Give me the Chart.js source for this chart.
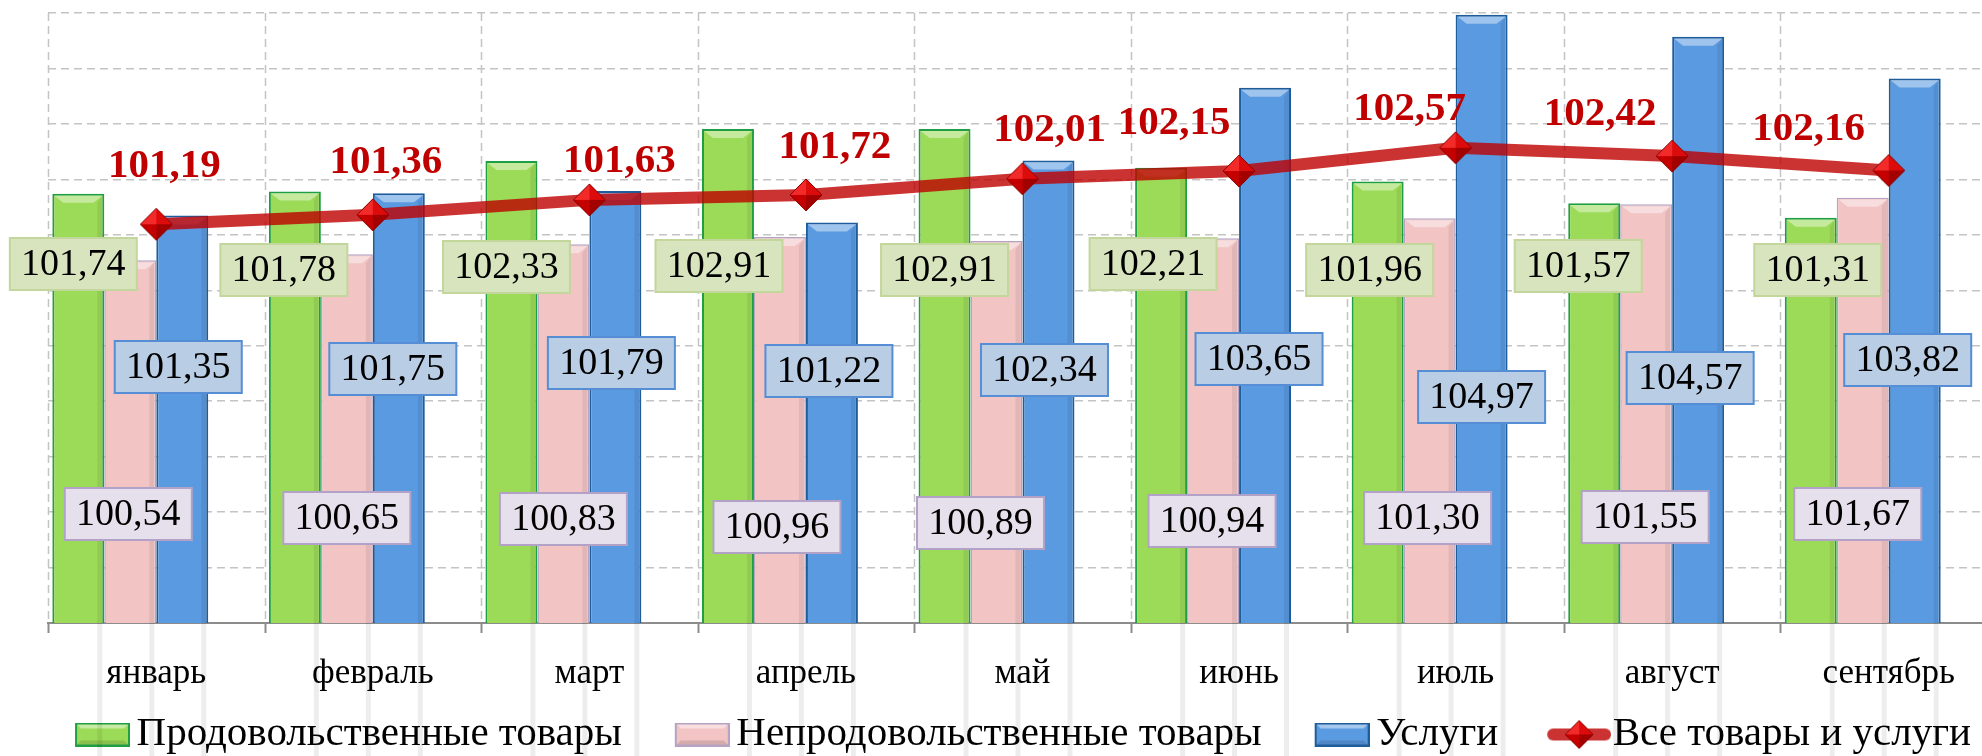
<!DOCTYPE html>
<html>
<head>
<meta charset="utf-8">
<script src="https://cdn.jsdelivr.net/npm/chart.js@4.4.1/dist/chart.umd.min.js"></script>
<style>
  html, body { margin: 0; padding: 0; background: #fff; overflow: hidden; }
  #wrap { width: 2003px; height: 756px; }
</style>
</head>
<body>
<div id="wrap"><canvas id="cpiChart" width="2003" height="756"></canvas></div>
<script>
const months = ["январь", "февраль", "март", "апрель", "май", "июнь", "июль", "август", "сентябрь"];
const seriesNames = ["Продовольственные товары", "Непродовольственные товары", "Услуги", "Все товары и услуги"];

const foodIdx = [101.74, 101.78, 102.33, 102.91, 102.91, 102.21, 101.96, 101.57, 101.31];
const nonFoodIdx = [100.54, 100.65, 100.83, 100.96, 100.89, 100.94, 101.30, 101.55, 101.67];
const servicesIdx = [101.35, 101.75, 101.79, 101.22, 102.34, 103.65, 104.97, 104.57, 103.82];
const allIdx = [101.19, 101.36, 101.63, 101.72, 102.01, 102.15, 102.57, 102.42, 102.16];

const yMin = 94, yMax = 105, yStep = 1;

const serif = "'Liberation Serif', 'DejaVu Serif', serif";
const gridColor = "#c4c4c4";
const gridDash = [8, 5];
const axisColor = "#8c8c8c";
const fmt = v => v.toFixed(2).replace(".", ",");

function poly(ctx, pts) {
  ctx.beginPath();
  ctx.moveTo(pts[0][0], pts[0][1]);
  for (let i = 1; i < pts.length; i++) ctx.lineTo(pts[i][0], pts[i][1]);
  ctx.closePath();
  ctx.fill();
}

// red diamond marker with facets
function makeDiamond(r) {
  const c = document.createElement("canvas");
  c.width = c.height = 2 * r + 2;
  const g = c.getContext("2d");
  const m = r + 1;
  g.fillStyle = "#f22a2a"; poly(g, [[m, m], [m, 1], [1, m]]);
  g.fillStyle = "#dc0c0c"; poly(g, [[m, m], [m, 1], [2 * r + 1, m]]);
  g.fillStyle = "#c40000"; poly(g, [[m, m], [1, m], [m, 2 * r + 1]]);
  g.fillStyle = "#a30000"; poly(g, [[m, m], [2 * r + 1, m], [m, 2 * r + 1]]);
  g.strokeStyle = "#8a0000";
  g.lineWidth = 1;
  g.beginPath();
  g.moveTo(m, 1); g.lineTo(2 * r + 1, m); g.lineTo(m, 2 * r + 1); g.lineTo(1, m); g.closePath();
  g.stroke();
  return c;
}

// legend icons are right-aligned inside a wider transparent canvas
const iconSlot = 84;
function makeBarIcon(fill, edge) {
  const w = 55, h = 24, W = iconSlot + 28;
  const c = document.createElement("canvas");
  c.width = W; c.height = h;
  const g = c.getContext("2d");
  const l = W - w;
  g.fillStyle = fill; g.fillRect(l, 0, w, h);
  g.fillStyle = "rgba(255,255,255,0.45)"; poly(g, [[l, 0], [W, 0], [W - 6, 6], [l + 6, 6]]);
  g.fillStyle = "rgba(0,0,0,0.12)"; poly(g, [[l + 6, h - 6], [W - 6, h - 6], [W, h], [l, h]]);
  g.strokeStyle = edge; g.lineWidth = 2; g.strokeRect(l + 1, 1, w - 2, h - 2);
  return c;
}
function makeLineIcon(marker) {
  const w = 64, h = 36, W = iconSlot + 38;
  const c = document.createElement("canvas");
  c.width = W; c.height = h;
  const g = c.getContext("2d");
  const l = W - w;
  g.strokeStyle = "rgba(190,0,0,0.8)";
  g.lineWidth = 12; g.lineCap = "round";
  g.beginPath(); g.moveTo(l + 6, h / 2); g.lineTo(W - 6, h / 2); g.stroke();
  g.drawImage(marker, l + w / 2 - marker.width / 2, h / 2 - marker.height / 2);
  return c;
}

const diamond = makeDiamond(16);
const legendIcons = [
  makeBarIcon("#9cdb58", "#1f9e43"),
  makeBarIcon("#f2c4c4", "#b4a3c3"),
  makeBarIcon("#5a9ae0", "#1f5c9a"),
  makeLineIcon(makeDiamond(14))
];

// x positions of the month boundaries
function monthEdges(chart) {
  const xs = chart.scales.x;
  const n = xs.ticks.length;
  const step = xs.getPixelForTick(1) - xs.getPixelForTick(0);
  const edges = [];
  for (let i = 0; i <= n; i++) edges.push(Math.round(xs.getPixelForTick(0) + (i - 0.5) * step) + 0.5);
  return edges;
}

// dashed lines between months over the plot, short solid ticks under the axis
const monthGrid = {
  id: "monthGrid",
  beforeDatasetsDraw(chart) {
    const ys = chart.scales.y;
    const ctx = chart.ctx;
    const yTop = ys.getPixelForValue(ys.max);
    const yBottom = ys.getPixelForValue(ys.min);
    ctx.save();
    monthEdges(chart).forEach(x => {
      ctx.strokeStyle = gridColor;
      ctx.lineWidth = 1.5;
      ctx.setLineDash(gridDash);
      ctx.beginPath();
      ctx.moveTo(x, yTop);
      ctx.lineTo(x, yBottom);
      ctx.stroke();
      ctx.strokeStyle = axisColor;
      ctx.lineWidth = 2;
      ctx.setLineDash([]);
      ctx.beginPath();
      ctx.moveTo(x, yBottom);
      ctx.lineTo(x, yBottom + 10);
      ctx.stroke();
    });
    ctx.restore();
  }
};

// 3D-ish bevel on every bar
const bevel = {
  id: "bevel",
  afterDatasetDraw(chart, args) {
    const meta = args.meta;
    if (meta.type !== "bar" || !chart.data.datasets[args.index].label) return;
    const ctx = chart.ctx;
    const b = 9;
    ctx.save();
    meta.data.forEach(bar => {
      const { x, y, base, width } = bar.getProps(["x", "y", "base", "width"], true);
      if (!isFinite(y)) return;
      const l = x - width / 2 + 2, r = x + width / 2 - 2;
      ctx.fillStyle = "rgba(255,255,255,0.42)";
      poly(ctx, [[l, y + 2], [r, y + 2], [r - b, y + b], [l + b, y + b]]);
      ctx.fillStyle = "rgba(0,0,0,0.07)";
      poly(ctx, [[r - 5, y + b], [r, y + 2], [r, base], [r - 5, base - b]]);
      ctx.fillStyle = "rgba(0,0,0,0.08)";
      poly(ctx, [[l + b, base - b], [r - b, base - b], [r, base], [l, base]]);
    });
    ctx.restore();
  }
};

// pull the legend a little lower than Chart.js would put it
const legendDrop = {
  id: "legendDrop",
  afterInit(chart) {
    const lg = chart.legend;
    if (!lg) return;
    const fit = lg.fit;
    lg.fit = function () { fit.call(this); this.height -= 9; };
  }
};

// boxed labels for bars and bold red labels for the line
const valueLabels = {
  id: "valueLabels",
  afterDatasetsDraw(chart, args, opts) {
    const ctx = chart.ctx;
    const ys = chart.scales.y;
    const top = ys.getPixelForValue(ys.max);
    const axisY = ys.getPixelForValue(ys.min);
    ctx.save();
    // keep the space between the axis and the legend clear at the month edges
    ctx.fillStyle = "#fff";
    monthEdges(chart).forEach(x => ctx.fillRect(x - 3, axisY + 11, 6, 712 - axisY - 11));
    ctx.textAlign = "center";
    ctx.textBaseline = "middle";
    ctx.font = "38px " + serif;
    opts.boxes.forEach(bx => {
      const meta = chart.getDatasetMeta(bx.dataset);
      const values = chart.data.datasets[bx.dataset].data;
      meta.data.forEach((bar, j) => {
        const cx = bar.x + bx.dx[j];
        const cy = top + bx.dy[j];
        const w = 127, h = 52;
        ctx.fillStyle = bx.fill;
        ctx.fillRect(cx - w / 2, cy - h / 2, w, h);
        ctx.strokeStyle = bx.edge;
        ctx.lineWidth = 2;
        ctx.strokeRect(cx - w / 2, cy - h / 2, w, h);
        ctx.fillStyle = "#000";
        ctx.fillText(fmt(values[j]), cx, cy + 1);
      });
    });
    const lm = chart.getDatasetMeta(opts.line.dataset);
    const lv = chart.data.datasets[opts.line.dataset].data;
    ctx.font = "bold 41px " + serif;
    ctx.fillStyle = "#c00000";
    lm.data.forEach((pt, j) => {
      ctx.fillText(fmt(lv[j]), pt.x + opts.line.dx[j], pt.y + opts.line.dy[j]);
    });
    ctx.restore();
  }
};

const ctx = document.getElementById("cpiChart").getContext("2d");
const chart = new Chart(ctx, {
  type: "bar",
  data: {
    labels: months,
    datasets: [
      {
        label: seriesNames[0], data: foodIdx, order: 2,
        backgroundColor: "#9cdb58", borderColor: "#1f9e43", borderWidth: 2,
        categoryPercentage: 0.96, barPercentage: 1
      },
      {
        label: seriesNames[1], data: nonFoodIdx, order: 2,
        backgroundColor: "#f2c4c4", borderColor: "#b4a3c3", borderWidth: 1.5,
        categoryPercentage: 0.96, barPercentage: 1
      },
      {
        label: seriesNames[2], data: servicesIdx, order: 2,
        backgroundColor: "#5a9ae0", borderColor: "#1f5c9a", borderWidth: 2,
        categoryPercentage: 0.96, barPercentage: 1
      },
      {
        // empty slot, keeps the bar group left of the category centre
        label: "", data: months.map(() => null), order: 2,
        categoryPercentage: 0.96, barPercentage: 1
      },
      {
        // marker is an image, so the radius only matters for layout overflow
        type: "line", label: seriesNames[3], data: allIdx, order: 0,
        borderColor: "rgba(190,0,0,0.8)", borderWidth: 12, tension: 0,
        pointStyle: diamond, pointRadius: 1, pointHoverRadius: 0, pointBorderWidth: 0, fill: false
      }
    ]
  },
  options: {
    responsive: false,
    animation: false,
    devicePixelRatio: 1,
    layout: { padding: { top: 13, right: 6, left: 6, bottom: 0 } },
    scales: {
      x: {
        afterFit: s => { s.height = 81; },
        grid: { display: false, offset: true },
        border: { display: true, color: axisColor, width: 2 },
        ticks: { color: "#000", font: { family: serif, size: 35 }, padding: 22 }
      },
      y: {
        min: yMin, max: yMax,
        afterFit: s => { s.width = 42; },
        ticks: { display: false, stepSize: yStep },
        grid: { color: gridColor, lineWidth: 1.5, drawTicks: false },
        border: { display: false, dash: gridDash }
      }
    },
    plugins: {
      tooltip: { enabled: false },
      legend: {
        position: "bottom",
        labels: {
          usePointStyle: true,
          pointStyleWidth: iconSlot,
          padding: 10,
          color: "#000",
          font: { family: serif, size: 41 },
          generateLabels: () => seriesNames.map((name, i) => ({
            text: name, pointStyle: legendIcons[i], fillStyle: "rgba(0,0,0,0)",
            strokeStyle: "rgba(0,0,0,0)", lineWidth: 0, hidden: false, datasetIndex: i, fontColor: "#000"
          }))
        }
      },
      valueLabels: {
        boxes: [
          { dataset: 1, fill: "#e6e0ec", edge: "#b3a2c7",
            dx: [-2, 0, 0, -3, -16, -1, -2, -1, -5],
            dy: [501, 505, 506, 514, 510, 508, 505, 504, 501] },
          { dataset: 0, fill: "#d7e4bd", edge: "#c3d69b",
            dx: [-5, -11, -5, -9, 0, -8, -8, -16, 7],
            dy: [251, 257, 254, 253, 257, 251, 257, 253, 257] },
          { dataset: 2, fill: "#b9cde5", edge: "#558ed5",
            dx: [-4, -6, -4, -3, -4, -6, 0, -8, -7],
            dy: [354, 356, 350, 358, 357, 346, 384, 365, 347] }
        ],
        line: {
          dataset: 4,
          dx: [8, 13, 30, 29, 27, -65, -46, -72, -80],
          dy: [-58, -52, -38, -47, -48, -48, -38, -42, -41]
        }
      }
    }
  },
  plugins: [monthGrid, bevel, legendDrop, valueLabels]
});
</script>
</body>
</html>
